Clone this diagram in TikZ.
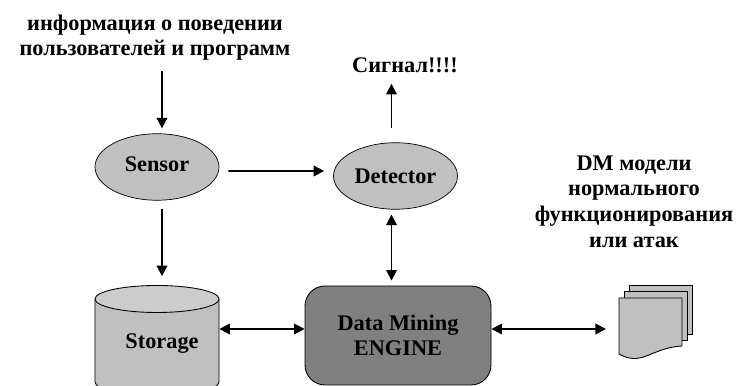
\documentclass[tikz,border=0pt]{standalone}
\usepackage{fontspec}
\setmainfont{Liberation Serif}
\usetikzlibrary{arrows.meta,shapes.geometric}
\definecolor{blockgray}{HTML}{C0C0C0}
\definecolor{lidgray}{HTML}{CCCCCC}
\definecolor{enginegray}{HTML}{808080}
\tikzset{
	title/.style={font=\fontsize{12.7}{14.6}\selectfont\bfseries, align=center},
	blob/.style={draw, line width=0.4pt, fill=blockgray, ellipse, inner sep=0pt, minimum width=2.48cm, minimum height=1.33cm},
	sheet/.style={draw, line width=0.5pt, fill=blockgray},
	flow/.style={line width=1pt, -{Triangle[length=6pt,width=6pt]}},
	both/.style={line width=1pt, {Triangle[length=6pt,width=6pt]}-{Triangle[length=6pt,width=6pt]}}
}

\begin{document}
\begin{tikzpicture}
			%%%%% START %%%%%
			\clip (0, 0) rectangle (14.9, 7.72);
			
			\node[title] (info) at (3.1, 6.97) {информация о поведении\\пользователей и программ};
			\node[title] (signal) at (8.1, 6.42) {Сигнал!!!!};
			\node[title] (models) at (12.68, 3.69) {DM модели\\нормального\\функционирования\\или атак};
			
			\node[blob] (sensor) at (3.14, 4.38) {};
			\node[title] (sensorname) at (3.14, 4.44) {Sensor};
			\node[blob, title] (detector) at (7.91, 4.2) {Detector};
			
			% drum
			\node[minimum width=2.48cm, minimum height=2.22cm] (storage) at (3.14, 0.92) {};
			\draw[sheet, fill=blockgray] (1.9, 1.74) -- (1.9, 0.08) arc (180:360:1.24 and 0.27) -- (4.38, 1.74);
			\draw[sheet, fill=lidgray] (3.14, 1.74) ellipse (1.24 and 0.27);
			\node[title] (storagename) at (3.24, 0.84) {Storage};
			
			\node[draw, line width=0.5pt, fill=enginegray, rounded corners=0.4cm, minimum width=3.72cm, minimum height=1.98cm, title] (engine) at (7.96, 1.01) {Data Mining\\ENGINE};
			
			% pile of sheets
			\draw[sheet] (12.58, 1.04) rectangle (13.84, 2.02);
			\draw[sheet] (12.48, 0.92) rectangle (13.74, 1.9);
			\draw[sheet] (12.38, 1.76) -- (13.64, 1.76) -- (13.64, 0.8)
				.. controls (13.0, 0.76) and (12.85, 0.38) .. (12.38, 0.64) -- cycle;
			\coordinate (pile) at (12.12, 1.14);
			
			\draw[flow, shorten <=0.08cm, shorten >=0.1cm] ([xshift=0.1cm]sensor.north |- info.south) -- ([xshift=0.1cm]sensor.north);
			\draw[flow] ([xshift=0.18cm, yshift=-0.08cm]sensor.east) -- ([xshift=-0.18cm, yshift=0.1cm]detector.west);
			\draw[flow, shorten <=0.16cm, shorten >=0.16cm] ([xshift=0.1cm]sensor.south) -- ([xshift=0.1cm]storage.north);
			\draw[flow, shorten <=0.28cm, shorten >=0.1cm] ([xshift=-0.08cm]detector.north) -- ([xshift=-0.08cm]detector.north |- signal.south);
			\draw[both] ([yshift=0.13cm]storage.east |- engine.east) -- ([yshift=0.13cm]engine.west);
			\draw[both, shorten <=0.1cm, shorten >=0.1cm] ([xshift=-0.08cm]detector.south) -- ([xshift=-0.08cm]detector.south |- engine.north);
			\draw[both] ([yshift=0.13cm]engine.east) -- (pile);
			
			%%%%% END %%%%%
		\end{tikzpicture}
\end{document}
